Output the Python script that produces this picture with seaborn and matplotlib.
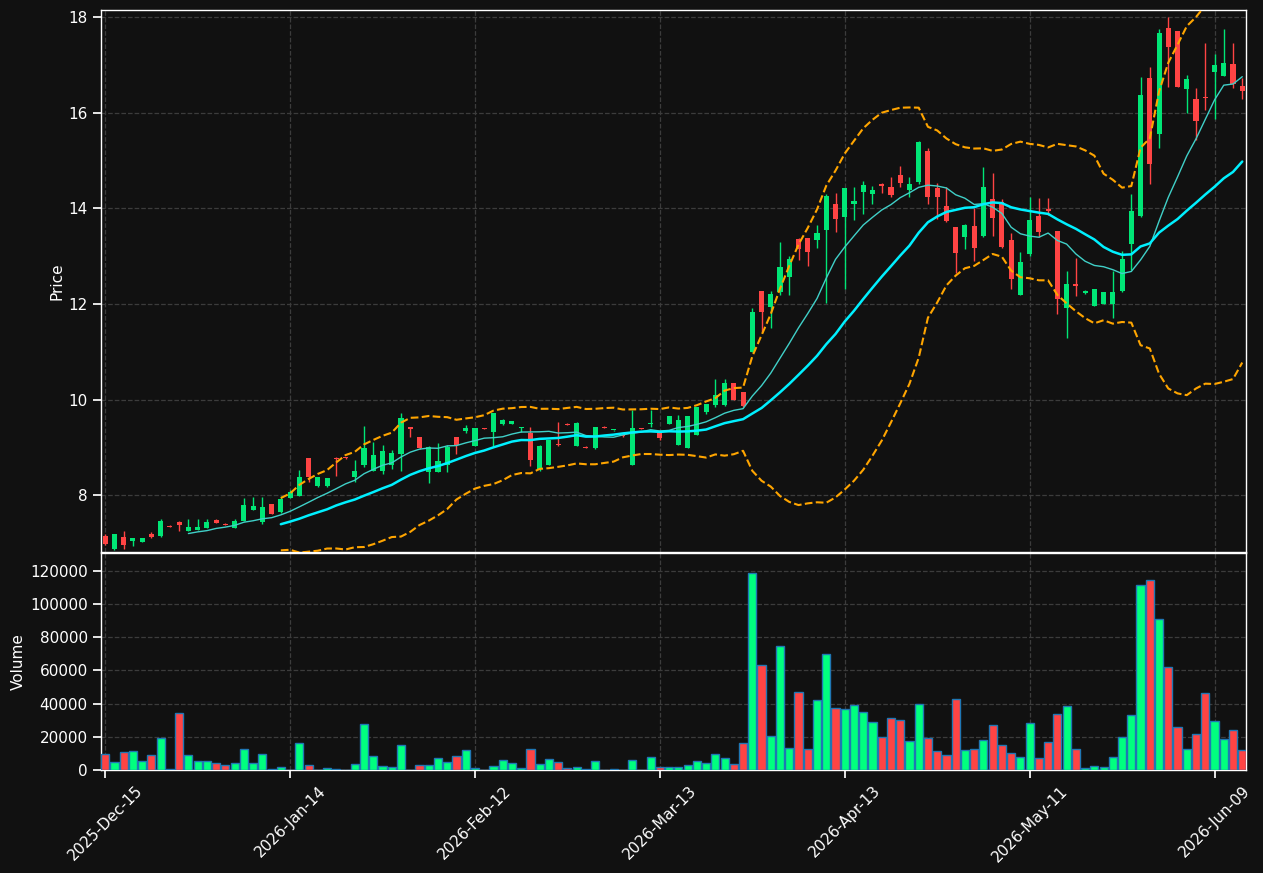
import numpy as np
import pandas as pd
import matplotlib
matplotlib.use('Agg')
import matplotlib.pyplot as plt
import seaborn as sns

# ------------------------------------------------------------ #
# data (one value per trading day)
# ------------------------------------------------------------ #

opens = [7.14, 6.87, 7.12, 7.04, 7.02, 7.18, 7.15, 7.36, 7.44, 7.25,
         7.27, 7.32, 7.48, 7.40, 7.32, 7.46, 7.69, 7.44, 7.81, 7.64,
         7.94, 7.99, 8.77, 8.19, 8.19, 8.78, 8.78, 8.38, 8.63, 8.51,
         8.51, 8.63, 8.86, 9.42, 9.21, 8.49, 8.49, 8.63, 9.21, 9.35,
         9.03, 9.40, 9.32, 9.49, 9.49, 9.40, 9.30, 8.54, 8.63, 9.05,
         9.49, 9.03, 9.01, 8.98, 9.43, 9.36, 9.24, 8.63, 9.40, 9.48,
         9.30, 9.49, 9.05, 8.99, 9.26, 9.74, 9.88, 9.88, 10.34, 10.15,
         11.00, 12.27, 11.94, 12.25, 12.56, 13.36, 13.38, 13.33, 13.55, 14.09,
         13.82, 14.10, 14.35, 14.30, 14.50, 14.44, 14.69, 14.38, 14.56, 15.20,
         14.42, 14.05, 13.61, 13.40, 13.64, 13.42, 14.19, 14.13, 13.33, 12.19,
         13.05, 13.84, 13.99, 13.52, 11.91, 12.41, 12.22, 11.96, 12.00, 12.00,
         12.27, 13.26, 13.84, 16.72, 15.56, 17.77, 17.71, 16.49, 16.28, 16.33,
         16.86, 16.77, 17.02, 16.56]
highs = [7.18, 7.19, 7.25, 7.11, 7.10, 7.23, 7.50, 7.37, 7.45, 7.49,
         7.49, 7.49, 7.49, 7.42, 7.49, 7.94, 7.96, 7.97, 7.82, 7.99,
         8.10, 8.52, 8.78, 8.38, 8.36, 8.79, 8.79, 8.73, 9.44, 9.12,
         9.05, 8.95, 9.71, 9.43, 9.22, 9.02, 9.09, 9.05, 9.22, 9.46,
         9.41, 9.41, 9.72, 9.60, 9.56, 9.43, 9.42, 9.04, 9.16, 9.53,
         9.50, 9.52, 9.02, 9.43, 9.44, 9.37, 9.25, 9.78, 9.41, 9.79,
         9.31, 9.66, 9.68, 9.66, 9.85, 9.91, 10.42, 10.42, 10.35, 10.16,
         11.91, 12.28, 12.27, 13.29, 13.00, 13.37, 13.39, 13.65, 14.31, 14.33,
         14.43, 14.45, 14.57, 14.47, 14.54, 14.66, 14.88, 14.66, 15.40, 15.26,
         14.53, 14.44, 13.62, 13.68, 14.00, 14.86, 14.75, 14.19, 13.49, 13.08,
         14.23, 14.21, 14.21, 13.53, 12.69, 12.96, 12.29, 12.32, 12.26, 12.68,
         13.10, 14.31, 16.75, 16.96, 17.76, 18.00, 17.72, 16.80, 16.52, 17.47,
         17.22, 17.76, 17.47, 16.72]
lows = [6.96, 6.86, 6.88, 6.94, 7.01, 7.11, 7.12, 7.33, 7.25, 7.24,
        7.26, 7.31, 7.42, 7.37, 7.31, 7.45, 7.68, 7.40, 7.60, 7.63,
        7.93, 7.98, 8.27, 8.18, 8.18, 8.40, 8.76, 8.27, 8.59, 8.50,
        8.45, 8.55, 8.50, 9.21, 8.97, 8.25, 8.48, 8.48, 8.86, 9.31,
        9.02, 9.38, 9.03, 9.47, 9.48, 9.33, 8.61, 8.51, 8.62, 9.02,
        9.46, 9.02, 8.98, 8.97, 9.40, 9.35, 9.22, 8.62, 9.38, 9.42,
        9.15, 9.48, 9.04, 8.98, 9.25, 9.70, 9.85, 9.87, 9.98, 9.85,
        10.99, 11.42, 11.49, 12.19, 12.19, 12.93, 12.80, 13.18, 12.01, 13.51,
        12.31, 13.75, 13.88, 14.09, 14.33, 14.24, 14.45, 14.24, 14.52, 14.10,
        13.78, 13.72, 12.65, 13.14, 12.90, 13.41, 13.42, 13.18, 12.31, 12.18,
        13.00, 13.41, 13.87, 11.80, 11.28, 12.17, 12.21, 11.95, 11.99, 11.70,
        12.26, 12.71, 13.82, 14.52, 15.27, 16.53, 16.53, 16.00, 15.43, 16.06,
        15.86, 16.76, 16.52, 16.28]
closes = [6.98, 7.18, 6.96, 7.10, 7.10, 7.13, 7.46, 7.34, 7.38, 7.33,
          7.33, 7.44, 7.42, 7.38, 7.46, 7.79, 7.77, 7.75, 7.61, 7.92,
          8.07, 8.38, 8.38, 8.37, 8.35, 8.76, 8.77, 8.50, 8.98, 8.84,
          8.92, 8.88, 9.61, 9.38, 8.98, 9.00, 8.71, 9.00, 9.05, 9.40,
          9.40, 9.39, 9.71, 9.57, 9.55, 9.42, 8.73, 9.03, 9.15, 9.04,
          9.47, 9.51, 8.99, 9.42, 9.41, 9.36, 9.23, 9.40, 9.39, 9.51,
          9.19, 9.65, 9.58, 9.65, 9.84, 9.90, 10.09, 10.34, 9.99, 9.86,
          11.83, 11.83, 12.21, 12.77, 12.94, 13.15, 13.08, 13.48, 14.26, 13.78,
          14.42, 14.15, 14.49, 14.38, 14.47, 14.28, 14.53, 14.51, 15.39, 14.24,
          14.24, 13.74, 13.07, 13.65, 13.17, 14.44, 13.80, 13.19, 12.52, 12.87,
          13.75, 13.50, 13.95, 12.10, 12.41, 12.38, 12.27, 12.31, 12.25, 12.25,
          12.94, 13.94, 16.37, 14.93, 17.68, 17.38, 16.54, 16.70, 15.83, 16.31,
          17.00, 17.04, 16.61, 16.46]
volumes = [9450, 4600, 10650, 11250, 5200, 8850, 19100, 400, 34200, 8850,
           5200, 5200, 4000, 2800, 4000, 12450, 4000, 9450, 800, 1600,
           200, 16100, 2800, 200, 1000, 400, 100, 3400, 27500, 8250,
           2200, 1600, 14900, 200, 2800, 2800, 7000, 4600, 8250, 11850,
           1000, 200, 2200, 5800, 4000, 1000, 12450, 3400, 6400, 4600,
           1000, 1600, 400, 5200, 100, 400, 100, 5800, 100, 7600,
           2000, 2000, 2000, 2800, 5200, 4000, 9450, 7000, 3400, 16100,
           118600, 63100, 20300, 74600, 13100, 46800, 12450, 42000, 69700, 37200,
           36600, 39000, 34800, 28700, 19700, 31150, 29950, 17300, 39600, 19100,
           11250, 8850, 42600, 11850, 12450, 17900, 26900, 14900, 10050, 7650,
           28150, 7050, 16700, 33550, 38400, 12450, 1000, 2200, 1600, 7650,
           19700, 32950, 111350, 114400, 90850, 61900, 25700, 12450, 21500, 46250,
           29350, 18500, 23900, 11850]

tick_labels = ['2025-Dec-15', '2026-Jan-14', '2026-Feb-12', '2026-Mar-13',
               '2026-Apr-13', '2026-May-11', '2026-Jun-09']
tick_step = 20

df = pd.DataFrame({'Open': opens, 'High': highs, 'Low': lows,
                   'Close': closes, 'Volume': volumes})
df['idx'] = np.arange(len(df))
df['up'] = df['Close'] >= df['Open']

# indicators
df['MA10'] = df['Close'].rolling(10).mean()
df['MA20'] = df['Close'].rolling(20).mean()
std20 = df['Close'].rolling(20).std()
df['Upper'] = df['MA20'] + 2 * std20
df['Lower'] = df['MA20'] - 2 * std20

# ------------------------------------------------------------ #
# style
# ------------------------------------------------------------ #

bg = '#111111'
up_c, down_c = '#00e676', '#ff4444'
vol_up, vol_down = '#00ff7f', '#ff4444'

sns.set_theme(style='dark', rc={
    'figure.facecolor': bg, 'axes.facecolor': bg,
    'axes.edgecolor': 'white', 'axes.labelcolor': 'white',
    'xtick.color': 'white', 'ytick.color': 'white', 'text.color': 'white',
    'grid.color': '#3c3c3c', 'grid.linestyle': '--', 'grid.linewidth': 0.9,
    'xtick.bottom': True, 'ytick.left': True,
})
plt.rcParams['font.family'] = ['DejaVu Sans']

fig = plt.figure(figsize=(12.63, 8.73), dpi=100)
ax = fig.add_axes([0.080, 0.3677, 0.9065, 0.6208])
axv = fig.add_axes([0.080, 0.1180, 0.9065, 0.2486], sharex=ax)

# ------------------------------------------------------------ #
# candles
# ------------------------------------------------------------ #

cols = np.where(df['up'], up_c, down_c)
ax.vlines(df['idx'], df['Low'], df['High'], colors=cols, linewidth=1, zorder=2)
body_low = np.minimum(df['Open'], df['Close'])
body_h = np.maximum(np.abs(df['Close'] - df['Open']), 0.02)
ax.bar(df['idx'], body_h, bottom=body_low, width=0.55, color=cols,
       linewidth=0, zorder=3)

# moving averages and bands
sns.lineplot(data=df, x='idx', y='MA10', ax=ax, color='#40d0c8', linewidth=1, zorder=4)
sns.lineplot(data=df, x='idx', y='MA20', ax=ax, color='#00f0ff', linewidth=1.8, zorder=4)
sns.lineplot(data=df, x='idx', y='Upper', ax=ax, color='#ffa500', linewidth=1.5,
             linestyle='--', zorder=4)
sns.lineplot(data=df, x='idx', y='Lower', ax=ax, color='#ffa500', linewidth=1.5,
             linestyle='--', zorder=4)

ax.set_ylim(6.81, 18.15)
ax.set_yticks([8, 10, 12, 14, 16, 18])
ax.set_ylabel('Price', fontsize=11)
ax.set_xlabel('')
ax.grid(True)
ax.tick_params(labelbottom=False, labelsize=11)

# ------------------------------------------------------------ #
# volume
# ------------------------------------------------------------ #

vcols = list(np.where(df['up'], vol_up, vol_down))
sns.barplot(x=df['idx'], y=df['Volume'], hue=df['idx'], palette=vcols,
            legend=False, width=0.88, native_scale=True, saturation=1,
            edgecolor='#1f77b4', linewidth=1, ax=axv, zorder=3)
axv.set_ylim(0, 130800)
axv.set_yticks([0, 20000, 40000, 60000, 80000, 100000, 120000])
axv.set_ylabel('Volume', fontsize=11)
axv.set_xlabel('')
axv.grid(True)
axv.set_xlim(-0.45, 123.4)
axv.set_xticks(np.arange(len(tick_labels)) * tick_step)
axv.set_xticklabels(tick_labels, rotation=45, fontsize=11)
axv.tick_params(labelsize=11)

for a in (ax, axv):
    for s in a.spines.values():
        s.set_color('white')
        s.set_linewidth(1)

ax.yaxis.set_label_coords(-0.032, 0.5)
axv.yaxis.set_label_coords(-0.066, 0.5)

fig.savefig('out.png', dpi=100, facecolor=bg)
